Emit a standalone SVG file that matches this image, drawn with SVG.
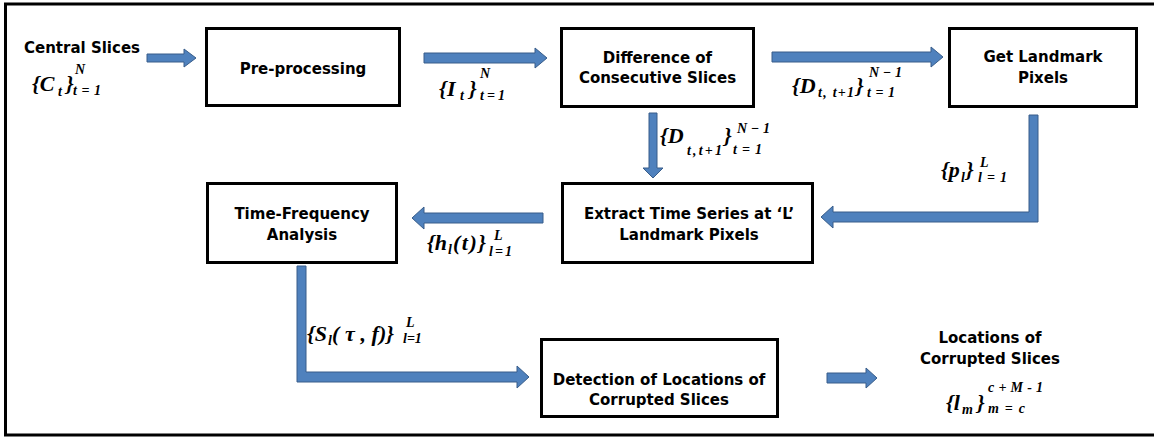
<svg xmlns="http://www.w3.org/2000/svg" width="1154" height="441" viewBox="0 0 1154 441">
<style>
.box{fill:#fff;stroke:#000;stroke-width:3}
.lbl{font-family:"DejaVu Sans",sans-serif;font-weight:bold;font-size:15px;text-anchor:middle;fill:#000}
.m{font-family:"Liberation Serif","Times New Roman",serif;font-weight:bold;font-style:italic;font-size:22px;fill:#000}
.s{font-family:"Liberation Serif","Times New Roman",serif;font-weight:bold;font-style:italic;font-size:14px;fill:#000}
.arr{fill:#4f81bd;stroke:#385d8a;stroke-width:1}
</style>
<rect width="1154" height="441" fill="#fff"/>
<path d="M1154,4 H5.5 V435 H1154" fill="none" stroke="#000" stroke-width="3"/>

<g id="connectors">
<path class="arr" d="M147,54 H184 V49 L196,58 L184,67 V62 H147 Z"/>
<path class="arr" d="M424,53 H535 V48 L547,58 L535,68 V63 H424 Z"/>
<path class="arr" d="M772,52 H931 V47 L943,57 L931,67 V62 H772 Z"/>
<path class="arr" d="M649,113 V168 H643 L653,178 L663,168 H657 V113 Z"/>
<path class="arr" d="M1029,115 H1038 V222 H833 V228 L821,217 L833,206 V212 H1029 Z"/>
<path class="arr" d="M543,213 H424 V207 L412,218 L424,229 V223 H543 Z"/>
<path class="arr" d="M297,266 H306 V372 H517 V366 L529,377 L517,388 V382 H297 Z"/>
<path class="arr" d="M827,373 H866 V368 L877,378 L866,388 V383 H827 Z"/>
</g>

<g id="input">
<text class="lbl" x="82" y="53">Central Slices</text>
<text class="m" x="32" y="91">{C</text>
<text class="s" x="58" y="96">t</text>
<text class="m" x="66" y="91">}</text>
<text class="s" x="75" y="74">N</text>
<text class="s" x="73" y="95" textLength="28" lengthAdjust="spacing">t=1</text>
</g>

<g id="preprocessing">
<rect class="box" x="206.5" y="28.5" width="193" height="77"/>
<text class="lbl" x="303" y="74">Pre-processing</text>
</g>

<g id="label-I">
<text class="m" x="439" y="96">{</text>
<text class="m" x="447" y="96">I</text>
<text class="s" x="460" y="100">t</text>
<text class="m" x="469" y="96">}</text>
<text class="s" x="480" y="78">N</text>
<text class="s" x="480" y="100" textLength="25" lengthAdjust="spacing">t=1</text>
</g>

<g id="difference">
<rect class="box" x="561.5" y="28.5" width="192" height="78"/>
<text class="lbl" x="657.5" y="63">Difference of</text>
<text class="lbl" x="657.5" y="83">Consecutive Slices</text>
</g>

<g id="label-D1">
<text class="m" x="792" y="93">{D</text>
<text class="s" x="818" y="97" textLength="36" lengthAdjust="spacing">t, t+1</text>
<text class="m" x="856" y="93">}</text>
<text class="s" x="869" y="77" textLength="33" lengthAdjust="spacing">N−1</text>
<text class="s" x="867" y="97" textLength="28" lengthAdjust="spacing">t=1</text>
</g>

<g id="landmark">
<rect class="box" x="949.5" y="28.5" width="187" height="78"/>
<text class="lbl" x="1043" y="62">Get Landmark</text>
<text class="lbl" x="1043" y="83">Pixels</text>
</g>

<g id="label-D2">
<text class="m" x="660" y="143">{D</text>
<text class="s" x="687" y="155" textLength="35" lengthAdjust="spacing">t,t+1</text>
<text class="m" x="724" y="143">}</text>
<text class="s" x="737" y="133" textLength="33" lengthAdjust="spacing">N−1</text>
<text class="s" x="733" y="154" textLength="29" lengthAdjust="spacing">t=1</text>
</g>

<g id="label-p">
<text class="m" x="941" y="177">{p</text>
<text class="s" x="961" y="182">l</text>
<text class="m" x="966" y="177">}</text>
<text class="s" x="980" y="167">L</text>
<text class="s" x="978" y="182" textLength="29" lengthAdjust="spacing">l=1</text>
</g>

<g id="extract">
<rect class="box" x="562.5" y="183.5" width="250" height="79"/>
<text class="lbl" x="689" y="219">Extract Time Series at ‘L’</text>
<text class="lbl" x="689" y="240">Landmark Pixels</text>
</g>

<g id="label-h">
<text class="m" x="427" y="250">{h</text>
<text class="s" x="448" y="254">l</text>
<text class="m" x="453" y="250" textLength="33" lengthAdjust="spacing">(t)}</text>
<text class="s" x="494" y="240">L</text>
<text class="s" x="489" y="256" textLength="23" lengthAdjust="spacing">l=1</text>
</g>

<g id="timefreq">
<rect class="box" x="207.5" y="183.5" width="189" height="79"/>
<text class="lbl" x="302" y="219">Time-Frequency</text>
<text class="lbl" x="302" y="240">Analysis</text>
</g>

<g id="label-S">
<text class="m" x="307" y="341">{S</text>
<text class="s" x="328" y="345" font-size="13">l</text>
<text class="m" x="332" y="341" textLength="62" lengthAdjust="spacing">( τ , f)}</text>
<text class="s" x="406" y="327" font-size="13">L</text>
<text class="s" x="403" y="343" font-size="13">l=1</text>
</g>

<g id="detection">
<rect class="box" x="541.5" y="339.5" width="236" height="77"/>
<text class="lbl" x="659" y="385">Detection of Locations of</text>
<text class="lbl" x="659" y="405">Corrupted Slices</text>
</g>

<g id="output">
<text class="lbl" x="990" y="343">Locations of</text>
<text class="lbl" x="990" y="364">Corrupted Slices</text>
<text class="m" x="946" y="410">{l</text>
<text class="s" x="962" y="414">m</text>
<text class="m" x="977" y="410">}</text>
<text class="s" x="988" y="392" textLength="55" lengthAdjust="spacing">c+M-1</text>
<text class="s" x="988" y="413" textLength="37" lengthAdjust="spacing">m=c</text>
</g>
</svg>
